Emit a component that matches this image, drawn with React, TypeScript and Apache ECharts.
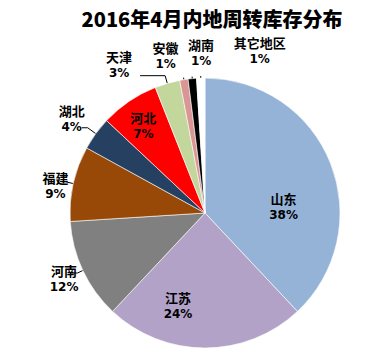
import React, { useEffect, useRef } from "react";
import * as echarts from "echarts";

const titleText = "2016年4月内地周转库存分布";
const regions = ["山东", "江苏", "河南", "福建", "湖北", "河北", "天津", "安徽", "湖南", "其它地区"];
const shares = [38, 24, 12, 9, 4, 7, 3, 1, 1, 1];
const colors = ["#95B3D7", "#B2A2C7", "#808080", "#984807", "#254061", "#FF0000", "#C3D69B", "#D99694", "#000000", "#FFFFFF"];
const insideSet = ["山东", "江苏", "河北"];
const insideOffsets: Record<string, number[]> = { 山东: [13, 19], 江苏: [-27, 22], 河北: [-22, -29] };
const lineLens: Record<string, number[]> = {
  河南: [6, 6],
  福建: [8, 4],
  湖北: [10, 6],
  天津: [8, 25],
  安徽: [2, 0],
  湖南: [2, 0],
  其它地区: [2, 0],
};
const outsideShift: Record<string, number[]> = {
  河南: [12, 5],
  福建: [12, 4],
  湖北: [8, -9],
  天津: [-3, -11],
  安徽: [0, -22],
  湖南: [27, -24],
  其它地区: [90, -26],
};

export default function App() {
  const ref = useRef<HTMLDivElement>(null);
  useEffect(() => {
    document.body.style.margin = "0";
    const chart = echarts.init(ref.current!, null, { renderer: "svg" });
    const data = regions.map((name, i) => {
      const inside = insideSet.includes(name);
      const item: any = {
        name,
        value: shares[i],
        itemStyle: { color: colors[i] },
      };
      if (inside) {
        item.label = { position: "inside", offset: insideOffsets[name] };
        item.labelLine = { show: false };
      } else {
        const l = lineLens[name];
        item.label = { position: "outside" };
        item.labelLine = { show: true, length: l[0], length2: l[1] };
      }
      return item;
    });
    chart.setOption({
      animation: false,
      backgroundColor: "#ffffff",
      title: {
        text: titleText,
        left: 212,
        top: 7,
        padding: 0,
        textAlign: "center",
        textStyle: {
          fontFamily: "Noto Sans CJK SC",
          fontWeight: 900,
          fontSize: 20,
          lineHeight: 22,
          color: "#000",
        },
      },
      series: [
        {
          type: "pie",
          center: [205, 213],
          radius: 135,
          startAngle: 90,
          clockwise: true,
          avoidLabelOverlap: false,
          itemStyle: { borderColor: "#ffffff", borderWidth: 0.6 },
          labelLayout: (p: any) => {
            const name = regions[p.dataIndex];
            const s = outsideShift[name];
            if (!s) return { hideOverlap: false };
            return { hideOverlap: false, dx: s[0], dy: s[1] };
          },
          label: {
            formatter: "{n|{b}}\n{p|{c}%}",
            fontFamily: "Noto Sans CJK SC",
            color: "#000",
            rich: {
              n: { fontSize: 13, fontWeight: "bold", fontFamily: "Noto Sans CJK SC", color: "#000", lineHeight: 17, align: "center" },
              p: { fontSize: 12, fontWeight: "bold", fontFamily: "DejaVu Sans", color: "#000", lineHeight: 16, align: "center" },
            },
          },
          labelLine: { lineStyle: { color: "#000", width: 1 } },
          data,
        },
      ],
    });
    return () => chart.dispose();
  }, []);
  return <div ref={ref} style={{ width: 389, height: 356 }} />;
}
